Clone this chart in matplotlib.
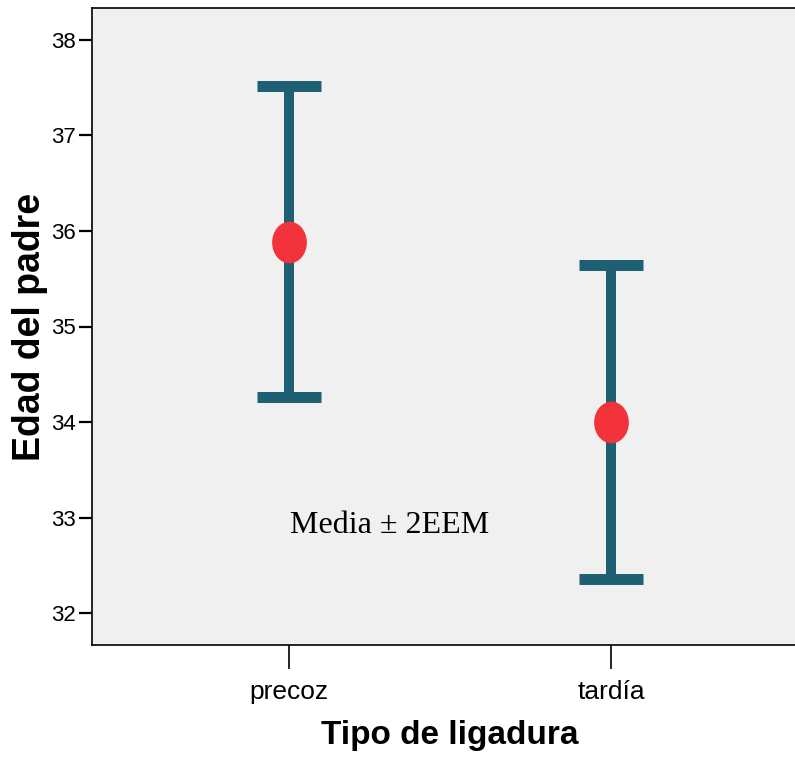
import matplotlib.pyplot as plt
from matplotlib.path import Path
from matplotlib.transforms import Affine2D

# Data
groups = ["precoz", "tardía"]
means = [35.88, 34.00]
upper = [37.52, 35.64]
lower = [34.26, 32.36]
yticks = [32, 33, 34, 35, 36, 37, 38]

LINE_COLOR = "#1e5f74"
DOT_COLOR = "#f2333b"
BG = "#f0f0f0"
SANS = "Liberation Sans"

fig = plt.figure(figsize=(7.95, 7.67), dpi=100)
ax = fig.add_axes([92 / 795, 122 / 767, 716 / 795, 637 / 767])
ax.set_facecolor(BG)

x = list(range(1, len(groups) + 1))
err_lo = [m - l for m, l in zip(means, lower)]
err_hi = [u - m for m, u in zip(means, upper)]

ax.errorbar(x, means, yerr=[err_lo, err_hi], fmt="none", ecolor=LINE_COLOR,
            elinewidth=7.2, capsize=22.7, capthick=7.9, zorder=2)

# slightly tall ellipse marker
ellipse = Path.unit_circle().transformed(Affine2D().scale(1.0, 1.2))
ax.plot(x, means, linestyle="none", marker=ellipse, markersize=30,
        color=DOT_COLOR, markeredgewidth=0, zorder=3)

ax.text(1.314, 32.92, "Media ± 2EEM", family="Liberation Serif", fontsize=23,
        ha="center", va="center")

ax.set_xlim(0.388, 2.612)
ax.set_ylim(31.665, 38.335)
ax.set_xticks(x)
ax.set_xticklabels(groups, family=SANS, fontsize=19)
ax.set_yticks(yticks)
ax.set_yticklabels([str(t) for t in yticks], family=SANS, fontsize=16)
ax.tick_params(axis="x", direction="out", length=17, width=1.2, pad=8)
ax.tick_params(axis="y", direction="out", length=9.5, width=1.6, pad=2)

ax.set_xlabel("Tipo de ligadura", family=SANS, fontsize=24, fontweight="bold", labelpad=12)
ax.set_ylabel("Edad del padre", family=SANS, fontsize=27, fontweight="bold", labelpad=2)

for side in ["left", "top", "bottom", "right"]:
    ax.spines[side].set_linewidth(1.2)

fig.savefig("out.png", dpi=100)
